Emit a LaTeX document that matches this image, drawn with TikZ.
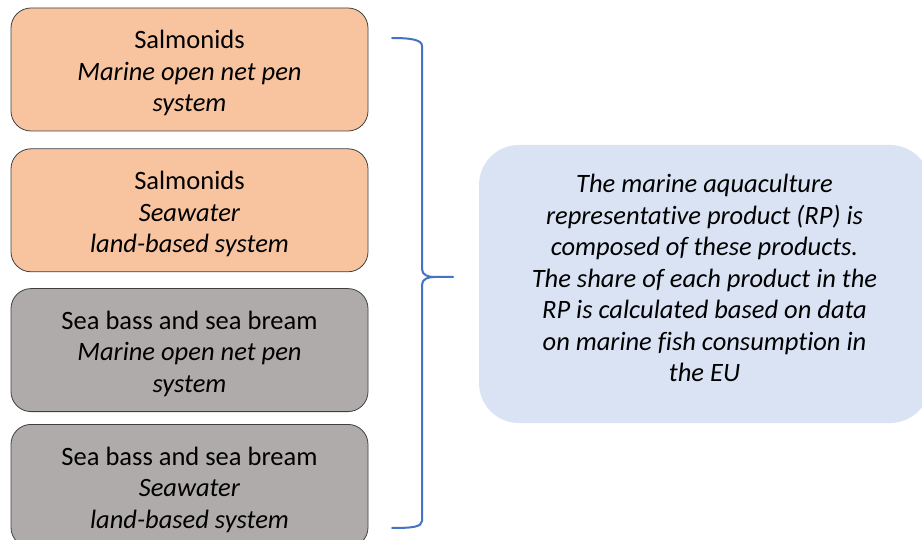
\documentclass[tikz,border=0pt]{standalone}
\usepackage{fontspec}
\setmainfont[Ligatures=NoCommon]{Carlito}
\usetikzlibrary{positioning}
\definecolor{salmon}{HTML}{F8C4A0}
\definecolor{bassgray}{HTML}{AFABAB}
\definecolor{rpblue}{HTML}{DAE3F3}
\definecolor{bracecol}{HTML}{4472C4}
\tikzstyle{brace} = [bracecol, line width=2pt, line join=round, line cap=round]
\newcommand{\rpdrop}{\rule[-12pt]{0pt}{12pt}}
\newcommand{\boxlift}{\rule{0pt}{26pt}}

\begin{document}
\begin{tikzpicture}[x=1pt, y=-1pt,
        node distance=16pt, % gap between the product boxes
        every node/.style={align=center, font=\fontsize{26.5}{31.5}\selectfont}, % text style
        product/.style={draw=black!75, line width=0.8pt, rounded corners=20pt, minimum width=357pt, minimum height=123pt},
        fishbox/.style={product, fill=salmon},
        bassbox/.style={product, fill=bassgray}
    ]

    % Page
    \fill[white] (0,0) rectangle (922,540);
    \useasboundingbox (0,0) rectangle (922,540);

    % Product boxes
    \node (salmnet) [fishbox] at (189.5,69.5) {\boxlift Salmonids\\\textit{Marine open net pen}\\\textit{system}};
    \node (salmland) [fishbox, below=17pt of salmnet] {\boxlift Salmonids\\\textit{Seawater}\\\textit{land-based system}};
    \node (bassnet) [bassbox, below=of salmland] {\boxlift Sea bass and sea bream\\\textit{Marine open net pen}\\\textit{system}};
    \node (bassland) [bassbox, below=12pt of bassnet] {\boxlift Sea bass and sea bream\\\textit{Seawater}\\\textit{land-based system}};

    % Representative product
    \node (rp) [fill=rpblue, rounded corners=40pt, minimum width=451pt, minimum height=278pt,
        execute at end node=\rpdrop] at (704.5,284)
        {\textit{The marine aquaculture}\\\textit{representative product (RP) is}\\\textit{composed of these products.}\\\textit{The share of each product in the}\\\textit{RP is calculated based on data}\\\textit{on marine fish consumption in}\\\textit{the EU}};

    % Brace
    \coordinate (tip) at (453,277);
    \draw[brace] (392,38) .. controls (412,38) and (422,40) .. (422,46) -- (422,269)
        .. controls (422,275) and (428,277) .. (434,277) -- (tip) -- (434,277)
        .. controls (428,277) and (422,279) .. (422,285) -- (422,521)
        .. controls (422,527) and (412,528) .. (392,528);

\end{tikzpicture}
\end{document}
